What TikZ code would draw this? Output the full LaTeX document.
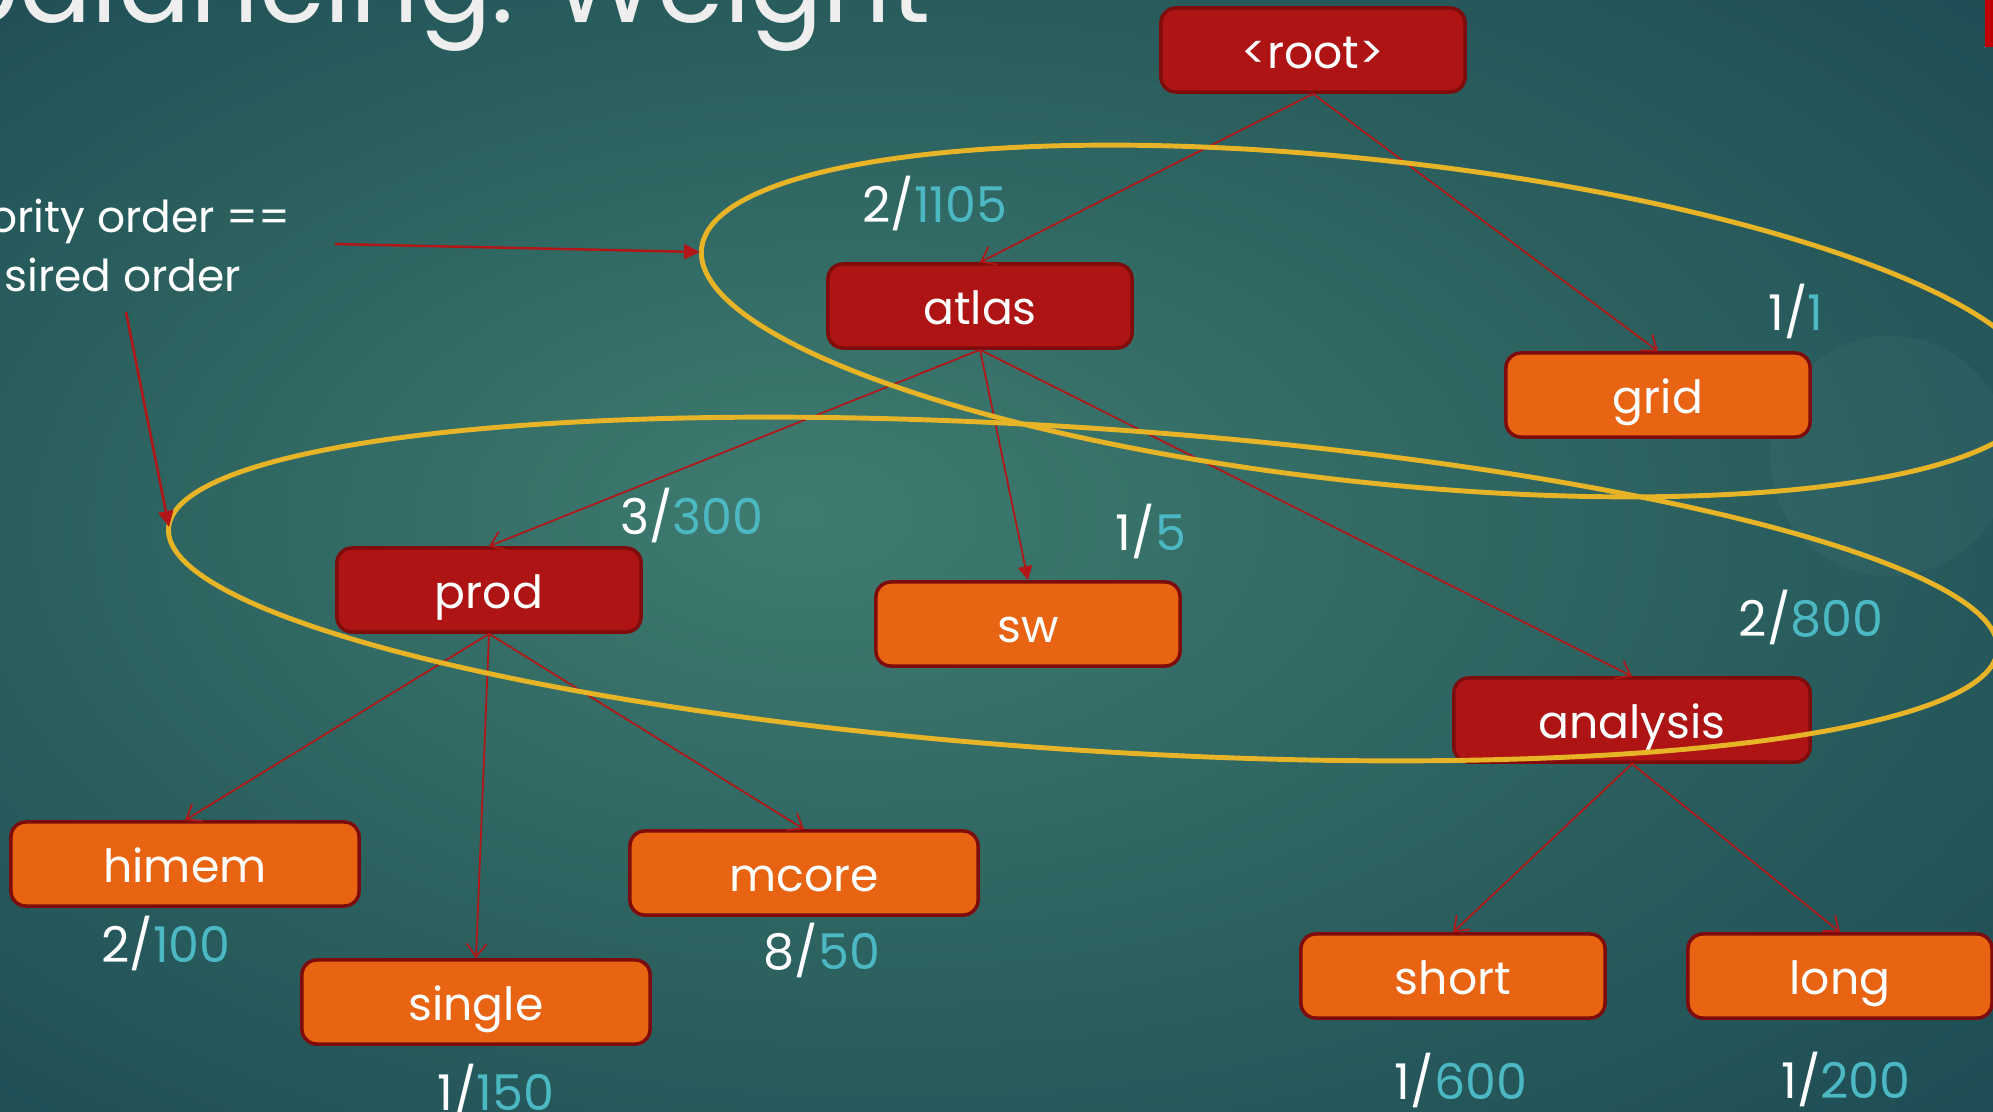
\documentclass[tikz,border=0pt]{standalone}
\usepackage{fontspec}
\setmainfont{Poppins}
\usetikzlibrary{arrows.meta}
\definecolor{bgA}{HTML}{3F7C70}
\definecolor{bgB}{HTML}{2F6662}
\definecolor{bgC}{HTML}{184350}
\definecolor{boxred}{HTML}{AF1414}
\definecolor{boxorange}{HTML}{E86312}
\definecolor{borderred}{HTML}{7E0C0C}
\definecolor{linered}{HTML}{B31616}
\definecolor{ellyellow}{HTML}{E6B426}
\definecolor{numteal}{HTML}{4CB8C4}
\definecolor{titlegray}{HTML}{EEEEEE}
\definecolor{barred}{HTML}{C00000}
\pgfdeclareradialshading{bgshade}{\pgfpoint{-5bp}{2bp}}{color(0bp)=(bgA); color(16bp)=(bgB); color(44bp)=(bgC); color(50bp)=(bgC)}
\newcommand\wt[2]{\textcolor{white}{#1/}\textcolor{numteal}{#2}}
\tikzset{
  box/.style={rounded corners=0.15cm, line width=1pt, draw=borderred, text=white,
    font=\fontsize{13}{15}\selectfont, minimum height=0.84cm, inner sep=0pt,
    text height=0.4cm, text depth=0.04cm},
  darkbox/.style={box, fill=boxred, minimum width=3.04cm},
  orangebox/.style={box, fill=boxorange, minimum width=3.04cm},
  widebox/.style={minimum width=3.48cm},
  edge/.style={draw=linered, line width=0.5pt, -{Straight Barb[length=0.13cm,width=0.2cm]}},
  edgefilled/.style={draw=linered, line width=0.5pt, -{Triangle[length=0.14cm,width=0.14cm]}},
  annoarrow/.style={draw=linered, line width=0.7pt, -{Triangle[length=0.16cm,width=0.15cm]}},
  lbl/.style={font=\fontsize{14}{16}\selectfont, inner sep=0pt},
  anno/.style={font=\fontsize{12.5}{15}\selectfont, text=white, inner sep=0pt},
  ring/.style={draw=ellyellow, line width=1.4pt},
}
\begin{document}
\begin{tikzpicture}[x=0.01cm,y=-0.01cm]
\useasboundingbox (0,0) rectangle (1993,1112);
\clip (0,0) rectangle (1993,1112);
\shade[shading=bgshade] (0,0) rectangle (1993,1112);
\fill[white, opacity=0.03] (1890,456) circle [radius=1.2cm];
\fill[barred] (1985,0) rectangle (1993,47);

% title (clipped at top)
\node[font=\fontsize{30.5}{33}\selectfont, text=titlegray, anchor=base west, inner sep=0pt] (title) at (-54,22) {balancing: Weight};

% nodes
\node[darkbox] (root) at (1313,50) {<root>};
\node[darkbox] (atlas) at (980,306) {atlas};
\node[orangebox] (grid) at (1658,395) {grid};
\node[darkbox] (prod) at (489,590) {prod};
\node[orangebox] (sw) at (1028,624) {sw};
\node[darkbox, widebox, minimum width=3.56cm] (analysis) at (1632,720) {analysis};
\node[orangebox, widebox] (himem) at (185,864) {himem};
\node[orangebox, widebox] (mcore) at (804,873) {mcore};
\node[orangebox, widebox] (single) at (476,1002) {single};
\node[orangebox] (short) at (1453,976) {short};
\node[orangebox] (long) at (1840,976) {long};

% edges
\draw[edge] (root.south) -- (atlas.north);
\draw[edge] (root.south) -- (grid.north);
\draw[edge] (atlas.south) -- (prod.north);
\draw[edgefilled] (atlas.south) -- (sw.north);
\draw[edge] (atlas.south) -- (analysis.north);
\draw[edge] (prod.south) -- (himem.north);
\draw[edge] (prod.south) -- (single.north);
\draw[edge] (prod.south) -- (mcore.north);
\draw[edge] (analysis.south) -- (short.north);
\draw[edge] (analysis.south) -- (long.north);

% weight labels
\node[lbl] (w-atlas) at (935,203) {\wt{2}{1105}};
\node[lbl] (w-grid) at (1796,311) {\wt{1}{1}};
\node[lbl] (w-prod) at (692,515) {\wt{3}{300}};
\node[lbl] (w-sw) at (1151,531) {\wt{1}{5}};
\node[lbl] (w-analysis) at (1811,617) {\wt{2}{800}};
\node[lbl] (w-himem) at (166,943) {\wt{2}{100}};
\node[lbl] (w-mcore) at (822,950) {\wt{8}{50}};
\node[lbl] (w-single) at (496,1091) {\wt{1}{150}};
\node[lbl] (w-short) at (1461,1080) {\wt{1}{600}};
\node[lbl] (w-long) at (1846,1079) {\wt{1}{200}};

% priority rings
\draw[ring, rotate around={-6.2:(1370,321)}] (1370,321) ellipse [x radius=6.72cm, y radius=1.61cm];
\draw[ring, rotate around={-3.8:(1083,589)}] (1083,589) ellipse [x radius=9.16cm, y radius=1.61cm];
\coordinate (ring1w) at (700,252);
\coordinate (ring2w) at (169,527);

% annotation
\node[anno, anchor=base east] (t1) at (291,232) {ority order ==};
\node[anno, anchor=base east] (t2) at (242,291) {sired order};
\coordinate (a1) at (335,244);
\coordinate (a2) at (126,312);
\draw[annoarrow] (a1) -- (ring1w);
\draw[annoarrow] (a2) -- (ring2w);
\end{tikzpicture}
\end{document}
